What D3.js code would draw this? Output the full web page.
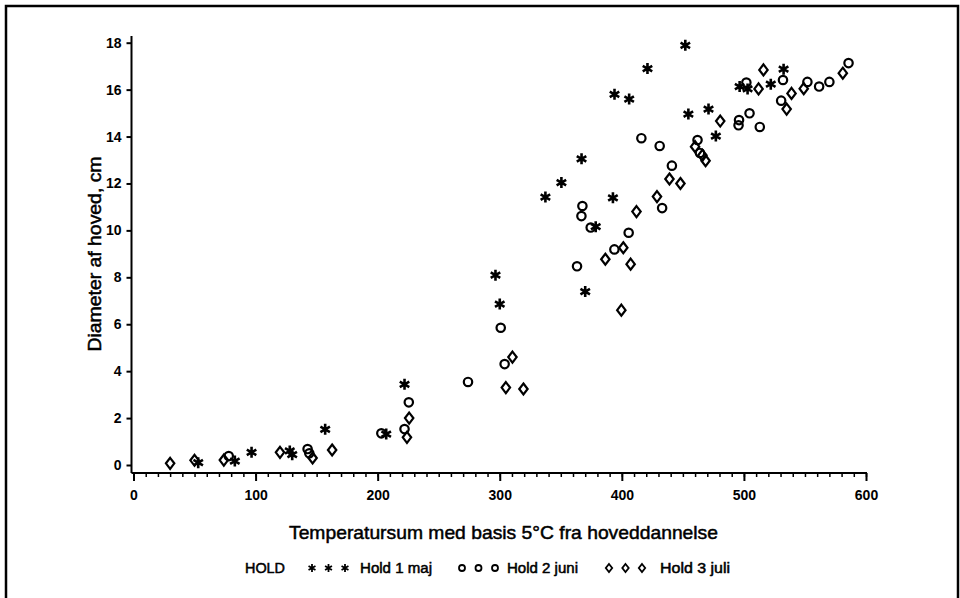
<!DOCTYPE html>
<html>
<head>
<meta charset="utf-8">
<script src="https://cdn.jsdelivr.net/npm/d3@7"></script>
<style>
  body { margin: 0; background: #fff; }
  text { font-family: "Liberation Sans", Arial, sans-serif; fill: #000; }
  .heavy { stroke: #000; stroke-width: 0.5px; }
</style>
</head>
<body>
<svg width="960" height="598"></svg>
<script>
// [temperatursum, diameter]
const hold1 = [[53,0.10],[83,0.17],[96.7,0.54],[128,0.6],[130,0.44],[157,1.52],[207,1.32],[222,3.44],
  [296.5,8.09],[300,6.86],[337.4,11.42],[350.5,12.04],[367,13.05],[370,7.39],[378.6,10.16],[392.7,11.39],
  [394,15.8],[406,15.6],[421,16.9],[452,17.89],[454.5,14.96],[471,15.17],[477,14.02],[496.5,16.13],
  [503,16.03],[522,16.23],[532.5,16.87]];
const hold2 = [[78,0.38],[142.6,0.68],[144,0.5],[203,1.35],[222,1.53],[225.5,2.67],[274,3.54],[300.8,5.85],
  [304,4.3],[363.3,8.47],[366.9,10.61],[367.7,11.04],[374.5,10.12],[393.9,9.19],[405.6,9.9],[416,13.93],
  [431,13.6],[433,10.95],[441,12.76],[462,13.85],[464,13.3],[496,14.7],[495.6,14.48],[502,16.3],
  [504.6,14.99],[513,14.41],[530.5,15.53],[532,16.41],[552,16.33],[561.6,16.13],[570,16.33],[585.7,17.13]];
const hold3 = [[30,0.07],[50,0.2],[74,0.21],[120,0.54],[146.7,0.3],[162.7,0.64],[224,1.18],[225.8,2.0],
  [305,3.3],[310.4,4.6],[319.4,3.24],[386.5,8.77],[399.6,6.6],[401.2,9.26],[407.2,8.56],[412,10.8],
  [428.8,11.44],[439,12.19],[448,12.0],[460,13.57],[466,13.2],[468.6,12.97],[480.6,14.66],[512,16.03],
  [516,16.84],[535,15.17],[539,15.84],[549,16.04],[581,16.7]];
const xTicks = [0,100,200,300,400,500,600];
const yTicks = [0,2,4,6,8,10,12,14,16,18];
const legendLabels = ["Hold 1 maj","Hold 2 juni","Hold 3 juli"];

let svg = d3.select("svg");

// frame round the page
svg.append("path").attr("d","M6,598V6H958V598")
  .attr("fill","none").attr("stroke","#000").attr("stroke-width",2.5);

let x = d3.scaleLinear().domain([0,600]).range([133.5,866]);
let y = d3.scaleLinear().domain([0,18]).range([465,42.7]);
const axisY = 473, axisX = 131.5;

// x axis with minor ticks every 10
let xAxis = svg.append("g").attr("transform",`translate(0,${axisY})`);
xAxis.call(d3.axisBottom(x).tickValues(d3.range(0,601,10)).tickSize(4).tickFormat(""));
xAxis.call(g => g.selectAll(".tick line").attr("stroke-width",1.5));
let xMajor = svg.append("g").attr("transform",`translate(0,${axisY})`)
  .call(d3.axisBottom(x).tickValues(xTicks).tickSize(8).tickPadding(9));
xMajor.select(".domain").remove();
xMajor.selectAll(".tick line").attr("stroke-width",2);
xMajor.selectAll("text").attr("font-size",14).attr("font-weight","bold").attr("fill","#000");
xAxis.select(".domain").attr("d",`M${x(0)-2},0H${x(600)+1}`).attr("stroke-width",2);

let yAxis = svg.append("g").attr("transform",`translate(${axisX},0)`)
  .call(d3.axisLeft(y).tickValues(yTicks).tickSize(5).tickPadding(5));
yAxis.select(".domain").attr("d",`M0,36V${axisY}`).attr("stroke-width",2);
yAxis.selectAll(".tick line").attr("stroke-width",2);
yAxis.selectAll("text").attr("font-size",14).attr("font-weight","bold").attr("fill","#000");

// axis titles
svg.append("text").attr("class","heavy").attr("x",503.5).attr("y",539).attr("text-anchor","middle")
  .attr("font-size",19).attr("textLength",429).attr("lengthAdjust","spacingAndGlyphs")
  .text("Temperatursum med basis 5°C fra hoveddannelse");
svg.append("text").attr("class","heavy").attr("transform","translate(101,254) rotate(-90)").attr("text-anchor","middle")
  .attr("font-size",19).attr("textLength",195).attr("lengthAdjust","spacingAndGlyphs")
  .text("Diameter af hoved, cm");

// marker shapes
function star(r) {
  let d = "";
  for (let a = 0; a < 3; a++) {
    let t = Math.PI/2 + a*Math.PI/3;
    d += `M${r*Math.cos(t)},${r*Math.sin(t)}L${-r*Math.cos(t)},${-r*Math.sin(t)}`;
  }
  return d;
}
const circle = r => `M${r},0A${r},${r} 0 1,1 ${-r},0A${r},${r} 0 1,1 ${r},0Z`;
const diamond = (w,h) => `M0,${-h}L${w},0L0,${h}L${-w},0Z`;

const series = [
  {data: hold1, path: star(5.5), lpath: star(4), sw: 2.6},
  {data: hold2, path: circle(4.2), lpath: circle(3), sw: 2.2},
  {data: hold3, path: diamond(4.2,5.5), lpath: diamond(3.2,4), sw: 2.2}
];

series.forEach(s => {
  svg.append("g").selectAll("path").data(s.data).enter().append("path")
    .attr("transform", d => `translate(${x(d[0])},${y(d[1])})`)
    .attr("d", s.path).attr("fill","none").attr("stroke","#000").attr("stroke-width", s.sw);
});

// legend
svg.append("text").attr("class","heavy").attr("x",245).attr("y",573).attr("font-size",14)
  .attr("textLength",40).attr("lengthAdjust","spacingAndGlyphs").text("HOLD");
const legendSym = [312,462,609];
const legendText = [[360,72],[507,71],[660,70]];
series.forEach((s,i) => {
  [0,1,2].forEach(k => {
    svg.append("path").attr("transform",`translate(${legendSym[i]+k*16.5},568)`)
      .attr("d", s.lpath).attr("fill","none").attr("stroke","#000").attr("stroke-width",1.8);
  });
  svg.append("text").attr("class","heavy").attr("x",legendText[i][0]).attr("y",573).attr("font-size",14)
    .attr("textLength",legendText[i][1]).attr("lengthAdjust","spacingAndGlyphs")
    .text(legendLabels[i]);
});
</script>
</body>
</html>
